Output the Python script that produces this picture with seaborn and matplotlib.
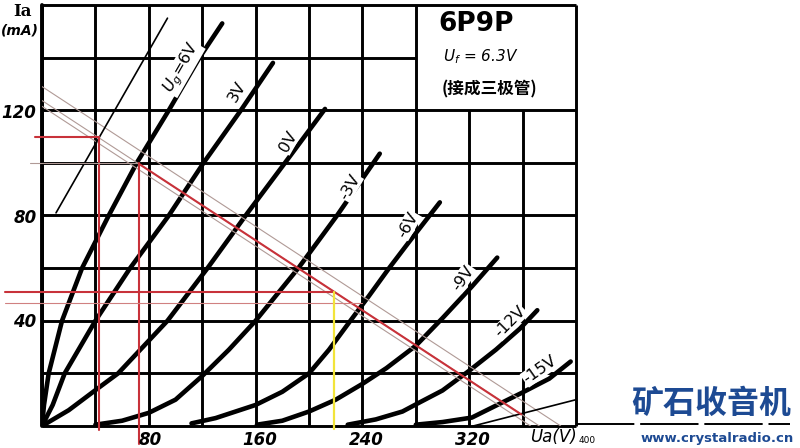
import numpy as np
import pandas as pd
import matplotlib
matplotlib.use("Agg")
import matplotlib.pyplot as plt
import seaborn as sns

# plate voltage Ua (V) and plate current Ia (mA), per grid bias
ug_p6_va = [0, 1.5, 5, 15, 30, 50, 71, 95, 118, 135]
ug_p6_ia = [0, 8, 20, 40, 60, 80, 100, 120, 140, 153]
ug_p3_va = [0, 8, 17, 40, 66, 95, 121, 149, 173]
ug_p3_ia = [0, 8, 20, 40, 60, 80, 100, 120, 138]
ug_0_va = [0, 20, 41, 57, 94, 124, 154, 182, 212]
ug_0_ia = [0, 6, 14, 20, 40, 60, 81, 100, 120.5]
ug_m3_va = [40, 60, 80, 100, 120, 140, 160, 192, 221, 253]
ug_m3_ia = [0.5, 2, 5, 10, 19, 29, 40, 60, 80, 103.5]
ug_m6_va = [112, 130, 160, 180, 200, 215, 231, 245, 260, 275, 298]
ug_m6_ia = [1, 3, 8, 13, 20, 29, 40, 49.5, 60, 70, 85]
ug_m9_va = [161, 180, 200, 220, 240, 258, 280, 300, 322, 341]
ug_m9_ia = [0.5, 2, 5.5, 10, 16, 22, 30.5, 41, 53, 64]
ug_m12_va = [229, 250, 270, 283, 300, 320, 340, 358, 371]
ug_m12_ia = [0.5, 2.5, 5.5, 9, 13.5, 21, 29, 37, 44]
ug_m15_va = [280, 300, 322, 345, 359, 380, 396]
ug_m15_ia = [0.5, 1.5, 3.2, 9, 12.5, 18, 24.5]

bias_names = ["+6V", "+3V", "0V", "-3V", "-6V", "-9V", "-12V", "-15V"]

# construction lines drawn on the sheet
tangent_va = [10.5, 94]
tangent_ia = [81, 155]
load_va = [72.4, 359]
load_ia = [99.7, 4.4]
parallel_ia0 = [129, 123.7, 121.5]   # Ia where the thin parallels meet Ua = 0
load_slope = -0.332
q1_va, q1_ia = 42.4, 110
q2_va, q2_ia = 72.4, 100
q3_va, q3_ia = 218.5, 51
q4_va, q4_ia = 240, 46.8

x_ticks = [80, 160, 240, 320]
y_ticks = [40, 80, 120]

frames = []
for name, va, ia in zip(bias_names,
                        [ug_p6_va, ug_p3_va, ug_0_va, ug_m3_va, ug_m6_va, ug_m9_va, ug_m12_va, ug_m15_va],
                        [ug_p6_ia, ug_p3_ia, ug_0_ia, ug_m3_ia, ug_m6_ia, ug_m9_ia, ug_m12_ia, ug_m15_ia]):
    frames.append(pd.DataFrame({"ua": va, "ia": ia, "ug": name}))
curves = pd.concat(frames, ignore_index=True)

sns.set_theme(style="white")
plt.rcParams["font.family"] = ["DejaVu Sans", "Noto Sans CJK SC"]
plt.rcParams["text.color"] = "black"

W, H = 800, 448
fig = plt.figure(figsize=(8, 4.48), dpi=100)
ax = fig.add_axes([42 / W, 22 / H, 534 / W, 421 / H])

def px(x, y):
    return x / W, 1 - y / H

# grid, with the title box (280-400 V, 120-160 mA) left empty
grid_kw = dict(color="black", lw=2.1, solid_capstyle="butt", zorder=1)
for v in range(0, 401, 40):
    top = 120 if v in (320, 360) else 160
    ax.plot([v, v], [0, top], clip_on=False, **grid_kw)
for i in range(0, 161, 20):
    right = 280 if i == 140 else 400
    ax.plot([0, right], [i, i], clip_on=False, **grid_kw)
ax.plot([400, 560], [0.6, 0.6], color="black", lw=1.4, ls=(0, (30, 3)), clip_on=False, zorder=1)
ax.plot([0, 0], [0, 160], color="black", lw=2.8, clip_on=False, zorder=1)

# characteristic curves
sns.lineplot(data=curves, x="ua", y="ia", units="ug", estimator=None, sort=False,
             color="black", lw=3.3, ax=ax, legend=False, zorder=3,
             solid_capstyle="round")
ax.set_xlim(0, 400)
ax.set_ylim(0, 160)
ax.axis("off")

# thin parallels to the load line
for c in parallel_ia0:
    ax.plot([0, -c / load_slope], [c, 0], color="#b09a96", lw=0.8, zorder=4)

# tangent line (internal resistance) and small tangent at the right
ax.plot(tangent_va, tangent_ia, color="black", lw=1.2, zorder=4)
ax.plot([323, 400], [0, 10], color="black", lw=1.2, zorder=4)

# load line and working-point projections
red = "#c8323a"
ax.plot(load_va, load_ia, color=red, lw=1.5, zorder=5)
ax.plot([-5, q1_va], [q1_ia, q1_ia], color=red, lw=1.5, clip_on=False, zorder=5)
ax.plot([q1_va, q1_va], [q1_ia, -1.5], color=red, lw=1.5, clip_on=False, zorder=5)
ax.plot([-9, q2_va], [q2_ia, q2_ia], color="#b09a96", lw=0.8, clip_on=False, zorder=5)
ax.plot([q2_va, q2_va], [q2_ia, -7], color=red, lw=1.5, clip_on=False, zorder=5)
ax.plot([-28, q3_va], [q3_ia, q3_ia], color=red, lw=1.5, clip_on=False, zorder=5)
ax.plot([-28, q4_va], [q4_ia, q4_ia], color="#d08080", lw=0.8, clip_on=False, zorder=5)
ax.plot([q3_va, q3_va], [q3_ia, -1], color="#f2e43a", lw=1.6, clip_on=False, zorder=5)

# tick labels
tick_kw = dict(fontsize=12, style="italic", weight="bold", color="black",
               ha="center", va="center")
for v, xp in zip(x_ticks, [150, 260, 366, 472]):
    fig.text(*px(xp, 440), str(v), **tick_kw)
for i, (xp, yp) in zip(y_ticks, [(25, 322), (25, 218), (19, 113)]):
    fig.text(*px(xp, yp), str(i), **tick_kw)
fig.text(*px(22, 12), "Ia", fontsize=12, weight="bold", family="DejaVu Serif",
         ha="center", va="center")
fig.text(*px(20, 30), "(mA)", fontsize=10, weight="bold", style="italic",
         ha="center", va="center")
fig.text(*px(553, 437), "Ua(V)", fontsize=12, style="italic", ha="center", va="center")
fig.text(*px(587, 440), "400", fontsize=6.5, ha="center", va="center")

# title box
fig.text(*px(476, 24), "6P9P", fontsize=19, weight="bold", ha="center", va="center")
fig.text(*px(481, 57), "$U_f$ = 6.3V", fontsize=11, style="italic", ha="center", va="center")
fig.text(*px(489, 89), "(接成三极管)", fontsize=12, weight="bold",
         family=["Noto Sans CJK SC", "DejaVu Sans"], ha="center", va="center")

# curve labels
label_pos = [(182, 68, 60), (237, 92, 60), (288, 142, 60), (350, 187, 60),
             (408, 225, 60), (463, 278, 55), (510, 322, 45), (540, 370, 35)]
label_txt = ["$U_g$=6V", "3V", "0V", "-3V", "-6V", "-9V", "-12V", "-15V"]
for txt, (xp, yp, rot) in zip(label_txt, label_pos):
    fig.text(*px(xp, yp), txt, fontsize=11.5, rotation=rot, ha="center", va="center",
             bbox=dict(facecolor="white", edgecolor="none", pad=0.5))

# site watermark
fig.text(*px(711, 404), "矿石收音机", fontsize=23, weight="bold", color="#1d4a93",
         family=["Noto Sans CJK SC", "DejaVu Sans"], ha="center", va="center")
fig.text(*px(717, 438), "www.crystalradio.cn", fontsize=9.5, weight="bold",
         color="#1d4a93", ha="center", va="center")

fig.savefig("out.png", dpi=100, facecolor="white")
